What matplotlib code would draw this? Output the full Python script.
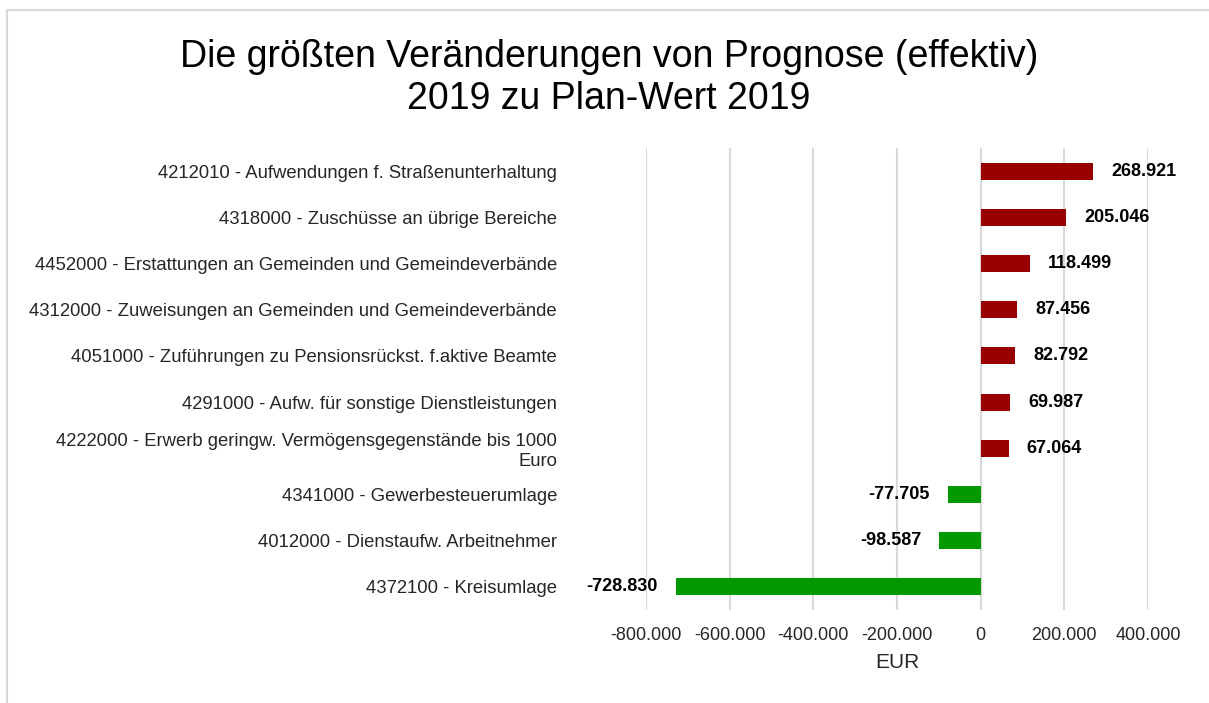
import matplotlib
matplotlib.use('Agg')
from matplotlib import pyplot as plt
from matplotlib.patches import Rectangle

plt.rcParams['font.family'] = ['Liberation Sans', 'DejaVu Sans']

# data (top to bottom)
categories = [
    '4212010 - Aufwendungen f. Straßenunterhaltung',
    '4318000 - Zuschüsse an übrige Bereiche',
    '4452000 - Erstattungen an Gemeinden und Gemeindeverbände',
    '4312000 - Zuweisungen an Gemeinden und Gemeindeverbände',
    '4051000 - Zuführungen zu Pensionsrückst. f.aktive Beamte',
    '4291000 - Aufw. für sonstige Dienstleistungen',
    '4222000 - Erwerb geringw. Vermögensgegenstände bis 1000\nEuro',
    '4341000 - Gewerbesteuerumlage',
    '4012000 - Dienstaufw. Arbeitnehmer',
    '4372100 - Kreisumlage',
]
values = [268921, 205046, 118499, 87456, 82792, 69987, 67064, -77705, -98587, -728830]
xticks = [-800000, -600000, -400000, -200000, 0, 200000, 400000]

def fmt(v):
    return f'{v:,.0f}'.replace(',', '.')

fig = plt.figure(figsize=(12.09, 7.03), dpi=100)
W, H = 1209, 703
ax = fig.add_axes([646 / W, 1 - 610 / H, (1148 - 646) / W, (610 - 148) / H])

# light frame round the chart
fig.patches.append(Rectangle((6.5 / W, -0.1), 1.2, 1 - 9.5 / H + 0.1,
                             transform=fig.transFigure, fill=False,
                             edgecolor='#d9d9d9', linewidth=1.5))

ypos = list(range(len(values)))
colors = ['#990000' if v > 0 else '#009900' for v in values]
ax.barh(ypos, values, height=0.37, color=colors, zorder=3)

for y, v in zip(ypos, values):
    if v > 0:
        ax.annotate(fmt(v), (v, y), xytext=(13, 0), textcoords='offset points',
                    ha='left', va='center', fontsize=13, fontweight='bold')
    else:
        ax.annotate(fmt(v), (v, y), xytext=(-13, 0), textcoords='offset points',
                    ha='right', va='center', fontsize=13, fontweight='bold')

ax.set_xlim(-800000, 400000)
ax.set_ylim(len(values) - 0.5, -0.5)
ax.set_xticks(xticks)
ax.set_xticklabels([fmt(t) for t in xticks], fontsize=13, color='#262626')
ax.set_yticks(ypos)
ax.set_yticklabels(categories, fontsize=13.3, color='#262626')
ax.tick_params(length=0)
ax.tick_params(axis='x', pad=12)
ax.tick_params(axis='y', pad=64)
ax.grid(axis='x', color='#d9d9d9', linewidth=1.5, zorder=0)
for s in ax.spines.values():
    s.set_visible(False)
ax.set_xlabel('EUR', fontsize=15, color='#262626', labelpad=7)

fig.text(609 / W, 1 - 78 / H,
         'Die größten Veränderungen von Prognose (effektiv)\n2019 zu Plan-Wert 2019',
         ha='center', va='center', fontsize=27, linespacing=1.22)

fig.savefig('out.png', dpi=100)
